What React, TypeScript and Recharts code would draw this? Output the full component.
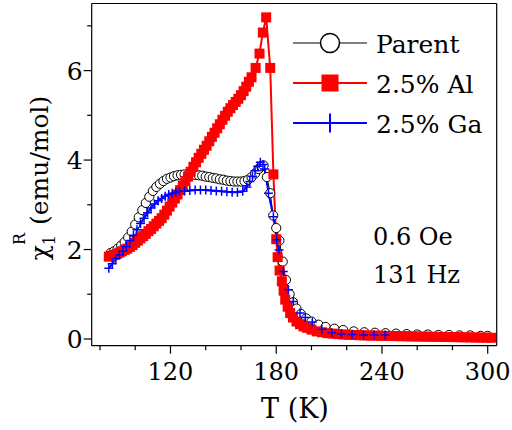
import React from 'react';
import { LineChart, Line, XAxis, YAxis } from 'recharts';

// ---- data ----
const parentT = [86, 88, 90, 92, 94, 96, 98, 100, 102, 104, 106, 108, 110, 112, 114, 116, 118, 120, 122, 124, 126, 128, 130, 132, 134, 136, 138, 140, 142, 144, 146, 148, 150, 152, 154, 156, 158, 160, 162, 164, 166, 168, 170, 171.5, 172.8, 174.7, 176.6, 178.3, 180, 181.8, 183.7, 185.5, 187.6, 189.5, 191.5, 194, 197, 200, 204, 208, 213, 218, 224, 230, 236, 242, 248, 254, 260, 266, 272, 278, 284, 290, 296, 300];
const parentChi = [1.92, 1.96, 2.02, 2.09, 2.17, 2.27, 2.4, 2.56, 2.72, 2.88, 3.04, 3.18, 3.31, 3.4, 3.47, 3.53, 3.58, 3.61, 3.64, 3.66, 3.67, 3.68, 3.68, 3.68, 3.67, 3.66, 3.65, 3.63, 3.62, 3.6, 3.59, 3.57, 3.56, 3.54, 3.53, 3.52, 3.52, 3.52, 3.53, 3.56, 3.62, 3.7, 3.8, 3.86, 3.88, 3.62, 3.26, 2.76, 2.48, 2.2, 1.73, 1.32, 1.0, 0.82, 0.68, 0.56, 0.46, 0.39, 0.32, 0.27, 0.23, 0.2, 0.17, 0.15, 0.14, 0.13, 0.12, 0.11, 0.1, 0.1, 0.09, 0.09, 0.08, 0.08, 0.07, 0.07];

const alT = [85, 86.5, 88, 89.5, 91, 92.5, 94, 95.5, 97, 98.5, 100, 101.5, 103, 104.5, 106, 107.5, 109, 110.5, 112, 113.5, 115, 116.5, 118, 119.5, 121, 122.5, 124, 125.5, 127, 128.5, 130, 131.5, 133, 134.5, 136, 137.5, 139, 140.5, 142, 143.5, 145, 146.5, 148, 149.5, 151, 152.5, 154, 155.5, 157, 158.5, 160, 161.5, 163, 164.5, 166, 168.3, 170.5, 172.4, 174.3, 176.6, 178.4, 180, 180.8, 181.9, 183.2, 184.2, 185.1, 186.5, 187.9, 189.5, 191.5, 193.5, 195.5, 197.5, 200, 203, 206, 209, 212, 215, 218, 221, 224, 227, 230, 233, 236, 239, 242, 245, 248, 251, 254, 257, 260, 263, 266, 269, 272, 275, 278, 281, 284, 287, 290, 293, 296, 299, 302];
const alChi = [1.84, 1.86, 1.88, 1.9, 1.93, 1.96, 1.99, 2.02, 2.06, 2.1, 2.15, 2.2, 2.25, 2.3, 2.35, 2.41, 2.46, 2.52, 2.58, 2.64, 2.7, 2.78, 2.87, 2.96, 3.05, 3.14, 3.23, 3.33, 3.43, 3.53, 3.63, 3.74, 3.85, 3.95, 4.05, 4.14, 4.23, 4.32, 4.42, 4.52, 4.61, 4.71, 4.8, 4.9, 4.99, 5.08, 5.16, 5.23, 5.3, 5.37, 5.45, 5.54, 5.64, 5.75, 5.85, 6.06, 6.38, 6.85, 7.19, 6.06, 3.68, 2.23, 1.83, 1.53, 1.29, 1.08, 0.88, 0.72, 0.58, 0.48, 0.39, 0.33, 0.28, 0.25, 0.21, 0.17, 0.15, 0.13, 0.12, 0.11, 0.1, 0.095, 0.09, 0.085, 0.08, 0.078, 0.075, 0.072, 0.07, 0.068, 0.065, 0.063, 0.06, 0.058, 0.056, 0.054, 0.052, 0.05, 0.048, 0.046, 0.044, 0.042, 0.04, 0.038, 0.036, 0.034, 0.032, 0.03, 0.028];

const gaT = [85, 87, 89, 91, 93, 95, 97, 99, 101, 103, 105, 107, 109, 111, 113, 115, 117, 119, 121, 123, 125, 128, 131, 134, 137, 140, 143, 146, 149, 152, 155, 158, 161, 163.3, 165, 166.5, 168, 169.5, 171, 172.5, 173.5, 175.6, 178.4, 180.3, 181.6, 184, 186.9, 189.7, 193.5, 196.5, 200.5, 205.9, 211.5, 217, 223, 229.5, 235.5, 241.8];
const gaChi = [1.58, 1.68, 1.8, 1.88, 1.96, 2.07, 2.2, 2.32, 2.44, 2.58, 2.7, 2.82, 2.93, 3.02, 3.09, 3.14, 3.19, 3.23, 3.26, 3.28, 3.3, 3.31, 3.32, 3.33, 3.33, 3.33, 3.32, 3.31, 3.3, 3.29, 3.28, 3.28, 3.3, 3.4, 3.52, 3.64, 3.76, 3.86, 3.95, 3.9, 3.8, 3.26, 2.73, 2.22, 1.99, 1.51, 1.1, 0.84, 0.58, 0.48, 0.38, 0.22, 0.14, 0.11, 0.1, 0.09, 0.09, 0.09];

const xTicks = [80, 100, 120, 140, 160, 180, 200, 220, 240, 260, 280, 300];
const xLabelled = [120, 180, 240, 300];
const yTicks = [0, 1, 2, 3, 4, 5, 6, 7];
const yLabelled = [0, 2, 4, 6];
const xDomain: [number, number] = [75.3, 305.1];
const yDomain: [number, number] = [-0.15, 7.5];

const seriesNames = ['Parent', '2.5% Al', '2.5% Ga'];
const fieldText = ['0.6 Oe', '131 Hz'];

const toRows = (t: number[], v: number[]) => t.map((T, i) => ({ T, chi: v[i] }));
const parentData = toRows(parentT, parentChi);
const alData = toRows(alT, alChi);
const gaData = toRows(gaT, gaChi);

const FONT = 'DejaVu Serif';
const W = 512;
const H = 430;
const margin = { top: 2.5, right: 14.3, bottom: 83.3, left: 90.7 };

const CircleDot = (p: any) => {
  if (p.cx == null || p.cy == null) return <g key={`c${p.index}`} />;
  return <circle key={`c${p.index}`} cx={p.cx} cy={p.cy} r={4.6} fill="#fff" stroke="#000" strokeWidth={1} />;
};
const SquareDot = (p: any) => {
  if (p.cx == null || p.cy == null) return <g key={`s${p.index}`} />;
  return <rect key={`s${p.index}`} x={p.cx - 5} y={p.cy - 5} width={10} height={10} fill="#ff0000" />;
};
const PlusDot = (p: any) => {
  if (p.cx == null || p.cy == null) return <g key={`p${p.index}`} />;
  const s = 4.5;
  return (
    <path key={`p${p.index}`} d={`M${p.cx - s},${p.cy}H${p.cx + s}M${p.cx},${p.cy - s}V${p.cy + s}`} stroke="#0000ff" strokeWidth={1.5} fill="none" />
  );
};

const XTick = (p: any) => {
  const v = p.payload?.value;
  const major = xLabelled.includes(v);
  return (
    <g>
      <line x1={p.x} x2={p.x} y1={p.y} y2={p.y + (major ? 8 : 4.5)} stroke="#000" strokeWidth={1.2} />
      {major && (
        <text x={p.x} y={p.y + 34} textAnchor="middle" fontFamily={FONT} fontSize={24} fill="#000">
          {v}
        </text>
      )}
    </g>
  );
};
const YTick = (p: any) => {
  const v = p.payload?.value;
  const major = yLabelled.includes(v);
  return (
    <g>
      <line x1={p.x} x2={p.x - (major ? 8 : 4.5)} y1={p.y} y2={p.y} stroke="#000" strokeWidth={1.2} />
      {major && (
        <text x={p.x - 9} y={p.y + 9} textAnchor="end" fontFamily={FONT} fontSize={25} fill="#000">
          {v}
        </text>
      )}
    </g>
  );
};

export default function App() {
  const legendX1 = 293;
  const legendX2 = 367;
  const legendMid = 330;
  const rows = [43, 83, 123];
  return (
    <div style={{ position: 'absolute', left: 0, top: 0, width: W, height: H, background: '#fff' }}>
      <LineChart width={W} height={H} margin={margin}>
        <XAxis xAxisId={0} dataKey="T" type="number" domain={xDomain} allowDataOverflow ticks={xTicks} height={1} tickSize={0} tickMargin={0} tick={XTick} tickLine={false} axisLine={{ stroke: '#000', strokeWidth: 1.2 }} interval={0} />
        <XAxis xAxisId="top" orientation="top" dataKey="T" type="number" domain={xDomain} allowDataOverflow ticks={[]} height={1} tick={false} tickLine={false} axisLine={{ stroke: '#000', strokeWidth: 1.2 }} />
        <YAxis yAxisId={0} type="number" domain={yDomain} allowDataOverflow ticks={yTicks} width={1} tickSize={0} tickMargin={0} tick={YTick} tickLine={false} axisLine={{ stroke: '#000', strokeWidth: 1.2 }} interval={0} />
        <YAxis yAxisId="right" orientation="right" type="number" domain={yDomain} allowDataOverflow ticks={[]} width={1} tick={false} tickLine={false} axisLine={{ stroke: '#000', strokeWidth: 1.2 }} />
        <Line data={parentData} dataKey="chi" name={seriesNames[0]} type="linear" stroke="#000" strokeWidth={1} dot={CircleDot} activeDot={false} isAnimationActive={false} />
        <Line data={alData} dataKey="chi" name={seriesNames[1]} type="linear" stroke="#ff0000" strokeWidth={2} dot={SquareDot} activeDot={false} isAnimationActive={false} />
        <Line data={gaData} dataKey="chi" name={seriesNames[2]} type="linear" stroke="#0000ff" strokeWidth={2} dot={PlusDot} activeDot={false} isAnimationActive={false} />
      </LineChart>
      <svg width={W} height={H} style={{ position: 'absolute', left: 0, top: 0, pointerEvents: 'none' }}>
        <line x1={legendX1} x2={legendX2} y1={rows[0]} y2={rows[0]} stroke="#555" strokeWidth={1.5} />
        <circle cx={legendMid} cy={rows[0]} r={9.5} fill="#fff" stroke="#000" strokeWidth={1.5} />
        <line x1={legendX1} x2={legendX2} y1={rows[1]} y2={rows[1]} stroke="#ff0000" strokeWidth={2} />
        <rect x={legendMid - 8.5} y={rows[1] - 8.5} width={17} height={17} fill="#ff0000" />
        <line x1={legendX1} x2={legendX2} y1={rows[2]} y2={rows[2]} stroke="#0000ff" strokeWidth={2} />
        <line x1={legendMid} x2={legendMid} y1={rows[2] - 9.5} y2={rows[2] + 9.5} stroke="#0000ff" strokeWidth={2} />
        {seriesNames.map((n, i) => (
          <text key={n} x={376} y={rows[i] + 10} fontFamily={FONT} fontSize={25} fill="#000">
            {n}
          </text>
        ))}
        <text x={373} y={245} fontFamily={FONT} fontSize={24} fill="#000">{fieldText[0]}</text>
        <text x={373} y={283} fontFamily={FONT} fontSize={24} fill="#000">{fieldText[1]}</text>
        <text x={295} y={418} textAnchor="middle" fontFamily={FONT} fontSize={27} fill="#000">T (K)</text>
        <text transform="translate(48,178) rotate(-90)" textAnchor="middle" fontFamily={FONT} fontSize={25} fill="#000">
          <tspan>χ</tspan>
          <tspan fontSize={16} dy={7}>1</tspan>
          <tspan fontSize={16} dx={-10} dy={-30}>R</tspan>
          <tspan dy={23}> (emu/mol)</tspan>
        </text>
      </svg>
    </div>
  );
}
